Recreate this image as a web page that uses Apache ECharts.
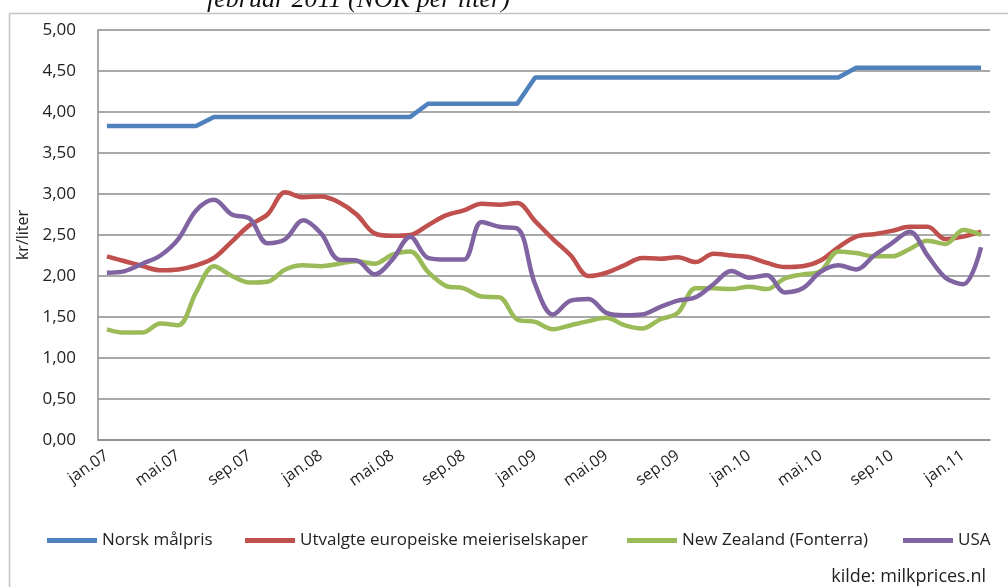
<!DOCTYPE html>
<html>
<head>
<meta charset="utf-8">
<script src="https://cdn.jsdelivr.net/npm/echarts@6/dist/echarts.min.js"></script>
<style>
  html, body { margin: 0; padding: 0; background: #fff; }
  #chart { width: 1008px; height: 587px; }
</style>
</head>
<body>
<div id="chart"></div>
<script>
// månedlige kategorier jan.07 - feb.11
const months = [
  'jan.07','feb.07','mar.07','apr.07','mai.07','jun.07','jul.07','aug.07','sep.07','okt.07','nov.07','des.07',
  'jan.08','feb.08','mar.08','apr.08','mai.08','jun.08','jul.08','aug.08','sep.08','okt.08','nov.08','des.08',
  'jan.09','feb.09','mar.09','apr.09','mai.09','jun.09','jul.09','aug.09','sep.09','okt.09','nov.09','des.09',
  'jan.10','feb.10','mar.10','apr.10','mai.10','jun.10','jul.10','aug.10','sep.10','okt.10','nov.10','des.10',
  'jan.11','feb.11'
];

const seriesNames = ['Norsk målpris', 'Utvalgte europeiske meieriselskaper', 'New Zealand (Fonterra)', 'USA'];

const norsk = [
  3.83, 3.83, 3.83, 3.83, 3.83, 3.83, 3.94, 3.94, 3.94, 3.94, 3.94, 3.94,
  3.94, 3.94, 3.94, 3.94, 3.94, 3.94, 4.10, 4.10, 4.10, 4.10, 4.10, 4.10,
  4.42, 4.42, 4.42, 4.42, 4.42, 4.42, 4.42, 4.42, 4.42, 4.42, 4.42, 4.42,
  4.42, 4.42, 4.42, 4.42, 4.42, 4.42, 4.54, 4.54, 4.54, 4.54, 4.54, 4.54,
  4.54, 4.54
];

const europa = [
  2.24, 2.18, 2.12, 2.07, 2.08, 2.13, 2.22, 2.42, 2.62, 2.75, 3.02, 2.96,
  2.97, 2.90, 2.75, 2.52, 2.49, 2.50, 2.62, 2.74, 2.80, 2.88, 2.87, 2.89,
  2.67, 2.45, 2.25, 2.00, 2.04, 2.13, 2.22, 2.21, 2.23, 2.17, 2.27, 2.25,
  2.23, 2.16, 2.11, 2.12, 2.19, 2.35, 2.48, 2.51, 2.55, 2.60, 2.60, 2.45,
  2.48, 2.54
];

const newZealand = [
  1.35, 1.31, 1.31, 1.42, 1.40, 1.80, 2.12, 2.00, 1.92, 1.93, 2.08, 2.13,
  2.12, 2.15, 2.18, 2.15, 2.26, 2.30, 2.05, 1.88, 1.85, 1.75, 1.74, 1.47,
  1.44, 1.35, 1.40, 1.45, 1.49, 1.40, 1.36, 1.47, 1.55, 1.85, 1.85, 1.84,
  1.87, 1.84, 1.97, 2.02, 2.06, 2.30, 2.28, 2.24, 2.24, 2.33, 2.43, 2.39,
  2.56, 2.50
];

const usa = [
  2.04, 2.06, 2.15, 2.25, 2.45, 2.80, 2.93, 2.75, 2.70, 2.40, 2.45, 2.68,
  2.52, 2.20, 2.19, 2.02, 2.20, 2.48, 2.22, 2.20, 2.20, 2.66, 2.60, 2.58,
  1.90, 1.53, 1.70, 1.72, 1.55, 1.52, 1.53, 1.62, 1.70, 1.74, 1.90, 2.06,
  1.98, 2.01, 1.80, 1.85, 2.05, 2.13, 2.08, 2.25, 2.40, 2.54, 2.25, 1.98,
  1.90, 2.35
];

const colors = ['#4F81BD', '#C0504D', '#9BBB59', '#8064A2'];
const legendLeft = [47, 245, 627, 903];

const chart = echarts.init(document.getElementById('chart'), null, { renderer: 'canvas' });

const fontFam = '"Open Sans", "Liberation Sans", sans-serif';

const makeLine = (name, data, color, smooth) => ({
  name: name,
  type: 'line',
  data: data,
  smooth: smooth,
  symbol: 'none',
  lineStyle: { color: color, width: 4.5 },
  itemStyle: { color: color }
});

chart.setOption({
  backgroundColor: '#fff',
  animation: false,
  grid: { left: 98, right: 18, top: 30, bottom: 147 },
  legend: seriesNames.map((n, i) => ({
    data: [n],
    left: legendLeft[i],
    top: 532,
    icon: 'rect',
    itemWidth: 50,
    itemHeight: 5,
    padding: 0,
    textStyle: { fontFamily: fontFam, fontSize: 17, color: '#222' }
  })),
  xAxis: {
    type: 'category',
    data: months,
    boundaryGap: true,
    axisLine: { lineStyle: { color: '#8c8c8c', width: 1.5 } },
    axisTick: { show: false },
    axisLabel: {
      interval: 3,
      rotate: 35,
      margin: 14,
      fontFamily: fontFam,
      fontSize: 16,
      color: '#222'
    }
  },
  yAxis: {
    type: 'value',
    min: 0,
    max: 5,
    interval: 0.5,
    name: 'kr/liter',
    nameLocation: 'middle',
    nameGap: 66,
    nameRotate: 90,
    nameTextStyle: { fontFamily: fontFam, fontSize: 16, color: '#222' },
    axisLine: { show: true, lineStyle: { color: '#8c8c8c', width: 1.5 } },
    axisTick: { show: false },
    splitLine: { lineStyle: { color: '#8c8c8c', width: 1.5 } },
    axisLabel: {
      margin: 22,
      fontFamily: fontFam,
      fontSize: 17,
      color: '#222',
      formatter: v => v.toFixed(2).replace('.', ',')
    }
  },
  series: [
    makeLine(seriesNames[0], norsk, colors[0], false),
    makeLine(seriesNames[1], europa, colors[1], 0.35),
    makeLine(seriesNames[2], newZealand, colors[2], 0.35),
    makeLine(seriesNames[3], usa, colors[3], 0.35)
  ],
  graphic: [
    {
      type: 'rect',
      shape: { x: 9.5, y: 13.5, width: 1010, height: 600 },
      style: { fill: null, stroke: '#c4c4c4', lineWidth: 1.5 },
      silent: true
    },
    {
      type: 'text',
      style: {
        x: 207, y: 0,
        text: 'februar 2011 (NOK per liter)',
        font: 'italic 26px "Liberation Serif", serif',
        fill: '#111',
        textVerticalAlign: 'middle'
      },
      silent: true
    },
    {
      type: 'text',
      style: {
        x: 986, y: 577,
        text: 'kilde: milkprices.nl',
        font: '18px "Open Sans", sans-serif',
        fill: '#222',
        textAlign: 'right',
        textVerticalAlign: 'middle'
      },
      silent: true
    }
  ]
});
</script>
</body>
</html>
